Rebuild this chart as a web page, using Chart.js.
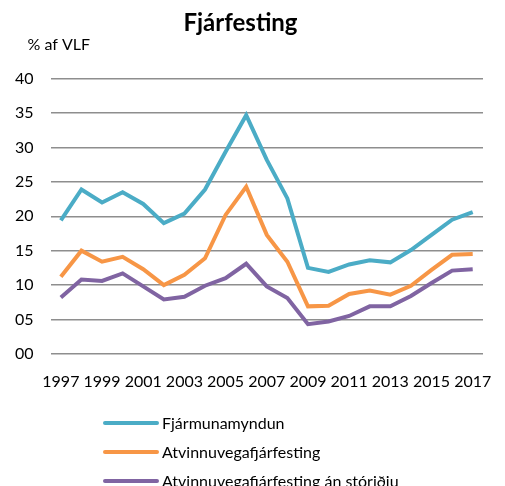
<!DOCTYPE html>
<html>
<head>
<meta charset="utf-8">
<script src="https://cdn.jsdelivr.net/npm/chart.js@4"></script>
<style>
  html, body { margin: 0; padding: 0; background: #fff; overflow: hidden; }
  #wrap { position: relative; width: 505px; height: 486px; }
  #legend { position: absolute; left: 103px; top: 408px; font-family: Lato, sans-serif; font-size: 16px; color: #000; }
  #legend .item { display: flex; align-items: center; height: 29px; white-space: nowrap; }
  #legend .swatch { display: inline-block; width: 56px; height: 4px; border-radius: 2px; margin-right: 3px; }
</style>
</head>
<body>
<div id="wrap">
  <canvas id="investChart" width="505" height="486"></canvas>
  <div id="legend"></div>
</div>
<script>
// Ár og tölur (% af VLF)
const years = ['1997','1998','1999','2000','2001','2002','2003','2004','2005','2006','2007',
               '2008','2009','2010','2011','2012','2013','2014','2015','2016','2017'];
const seriesNames = ['Fjármunamyndun', 'Atvinnuvegafjárfesting', 'Atvinnuvegafjárfesting án stóriðju'];
const fjarmunamyndun = [19.4, 23.9, 22.0, 23.5, 21.8, 19.0, 20.4, 23.9, 29.4, 34.7, 28.2,
                        22.6, 12.5, 11.9, 13.0, 13.6, 13.3, 15.1, 17.3, 19.5, 20.6];
const atvinnuvegafjarfesting = [11.2, 15.0, 13.4, 14.1, 12.3, 10.0, 11.5, 13.9, 20.2, 24.3, 17.3,
                                13.4, 6.9, 7.0, 8.7, 9.2, 8.6, 9.9, 12.2, 14.4, 14.5];
const anStoridju = [8.2, 10.8, 10.6, 11.7, 9.8, 7.9, 8.3, 9.9, 11.0, 13.1, 9.8,
                    8.1, 4.3, 4.7, 5.5, 6.9, 6.9, 8.4, 10.3, 12.1, 12.3];
const yTicks = ['00', '05', '10', '15', '20', '25', '30', '35', '40'];
const colors = ['#4bacc6', '#f79646', '#8064a2'];

const font = 'Lato, "Open Sans", sans-serif';

// "% af VLF" fyrir ofan y-ásinn
const unitLabel = {
    id: 'unitLabel',
    afterDraw(chart) {
        const { ctx, chartArea } = chart;
        ctx.save();
        ctx.font = '16px ' + font;
        ctx.fillStyle = '#000';
        ctx.textBaseline = 'middle';
        ctx.fillText('% af VLF', chartArea.left - 23, chartArea.top - 34);
        ctx.restore();
    }
};

const ctx = document.getElementById('investChart');

const chart = new Chart(ctx, {
    type: 'line',
    data: {
        labels: years,
        datasets: [fjarmunamyndun, atvinnuvegafjarfesting, anStoridju].map((d, i) => ({
            label: seriesNames[i],
            data: d,
            borderColor: colors[i],
            backgroundColor: colors[i],
            borderWidth: 4,
            pointRadius: 0,
            tension: 0
        }))
    },
    options: {
        responsive: false,
        animation: false,
        layout: { padding: { left: -2, right: 22, top: 0, bottom: 85 } },
        plugins: {
            legend: { display: false },
            tooltip: { enabled: false },
            title: {
                display: true,
                text: 'Fjárfesting',
                color: '#000',
                font: { family: font, size: 24, weight: 'bold' },
                padding: { top: 9, bottom: 41 }
            }
        },
        scales: {
            x: {
                offset: true,
                grid: { display: false },
                border: { display: false },
                ticks: {
                    autoSkip: false,
                    maxRotation: 0,
                    padding: 10,
                    color: '#000',
                    font: { family: font, size: 16 },
                    callback: (v, i) => (i % 2 === 0 ? years[i] : '')
                }
            },
            y: {
                min: 0,
                max: 40,
                grid: { color: '#8e8e8e', lineWidth: 1.5, drawTicks: false },
                border: { display: false },
                ticks: {
                    stepSize: 5,
                    padding: 17,
                    color: '#000',
                    font: { family: font, size: 16 },
                    callback: (v) => yTicks[v / 5]
                }
            }
        }
    },
    plugins: [unitLabel]
});

// Skýringar (lóðrétt, eins og í fyrirmyndinni)
const legendEl = document.getElementById('legend');
chart.data.datasets.forEach(ds => {
    const row = document.createElement('div');
    row.className = 'item';
    const sw = document.createElement('span');
    sw.className = 'swatch';
    sw.style.background = ds.borderColor;
    const txt = document.createElement('span');
    txt.textContent = ds.label;
    row.appendChild(sw);
    row.appendChild(txt);
    legendEl.appendChild(row);
});
</script>
</body>
</html>
